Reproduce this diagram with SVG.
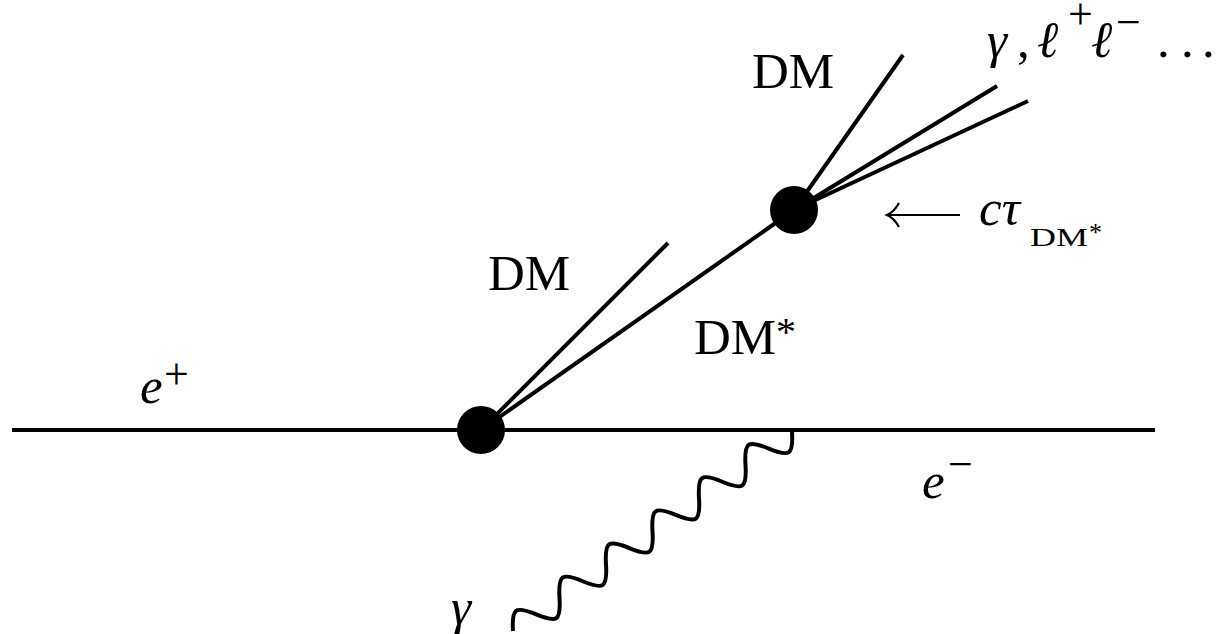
<svg xmlns="http://www.w3.org/2000/svg" width="1224" height="634" viewBox="0 0 1224 634">
<style>
.ln{stroke:#000;stroke-width:4;fill:none;stroke-linecap:butt}
.ph{stroke:#000;stroke-width:4;fill:none}
.v{fill:#000}
text{font-family:"Liberation Serif","DejaVu Serif",serif;fill:#000}
.rm{font-size:51px}
.it{font-size:51px;font-style:italic}
.sup{font-size:44px;font-style:normal}
</style>
<rect width="1224" height="634" fill="#fff"/>
<g id="connectors">
<line id="e-line" class="ln" x1="12" y1="430" x2="1155" y2="430"/>
<line id="dm1" class="ln" x1="481" y1="430" x2="668" y2="243"/>
<line id="dmstar" class="ln" x1="481" y1="430" x2="794" y2="210"/>
<line id="dm2" class="ln" x1="794" y1="210" x2="903" y2="55"/>
<line id="out1" class="ln" x1="794" y1="210" x2="997" y2="86"/>
<line id="out2" class="ln" x1="794" y1="210" x2="1028" y2="101"/>
<g id="photon" transform="translate(513,631) rotate(-35.5)">
<path class="ph" d="M0,0 c12.12,-19.5 16.44,-19.5 28.56,0 s16.44,19.5 28.56,0 s16.44,-19.5 28.56,0 s16.44,19.5 28.56,0 s16.44,-19.5 28.56,0 s16.44,19.5 28.56,0 s16.44,-19.5 28.56,0 s16.44,19.5 28.56,0 s16.44,-19.5 28.56,0 s16.44,19.5 28.56,0 s16.44,-19.5 28.56,0 s16.44,19.5 28.56,0"/>
</g>
</g>
<g id="vertex-production"><circle class="v" cx="481" cy="430" r="24"/></g>
<g id="vertex-decay"><circle class="v" cx="794" cy="210" r="24"/></g>
<g id="labels">
<text class="it" x="140" y="403">e<tspan class="sup" x="164" y="389">+</tspan></text>
<text class="it" x="922" y="498">e<tspan class="sup" x="948" y="479">−</tspan></text>
<text class="it" x="451" y="624">γ</text>
<text class="rm" x="488" y="290">DM</text>
<text class="rm" x="752" y="88">DM</text>
<text class="rm" x="694" y="354">DM<tspan font-size="40" x="776" y="345">*</tspan></text>
<text class="it" x="987" y="57">γ<tspan font-style="normal" x="1017">,</tspan><tspan x="1037">ℓ</tspan><tspan x="1091">ℓ</tspan><tspan class="sup" x="1116" y="37">−</tspan><tspan font-style="normal" x="1157 1181 1202" y="57">...</tspan></text>
<text class="sup" font-size="34" x="1068" y="29">+</text>
<path class="ln" style="stroke-width:2.2" d="M889,215 H960 M899,203 Q894,212 887,215 Q894,218 899,227"/>
<text class="it" x="979" y="225">cτ<tspan font-style="normal" font-size="26" x="1030" y="246" textLength="58" lengthAdjust="spacingAndGlyphs">DM</tspan><tspan font-style="normal" font-size="26" x="1089" y="241">*</tspan></text>
</g>
</svg>
